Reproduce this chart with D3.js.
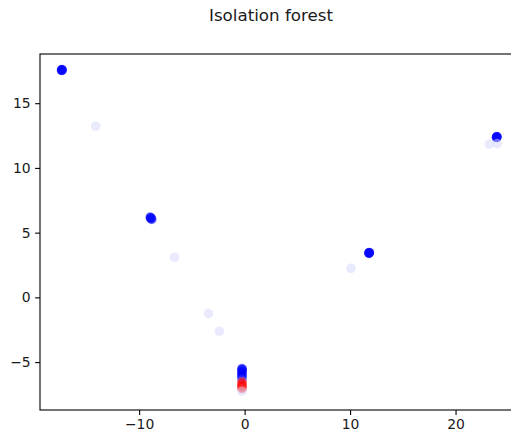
<!DOCTYPE html>
<html>
<head>
<meta charset="utf-8">
<script src="https://cdn.jsdelivr.net/npm/d3@7"></script>
<style>
  html, body { margin: 0; padding: 0; background: #fff; }
  svg { display: block; font-family: "DejaVu Sans", sans-serif; }
</style>
</head>
<body>
<svg id="chart" width="511" height="437"></svg>
<script>
// Sample coordinates and their anomaly scores (0 = inlier/blue, 1 = outlier/red)
const xs = [
  -17.35, -17.30, -17.33, -17.36, -17.31,
  -14.12,
  -8.95, -8.90, -8.85, -8.80, -8.92,
  -6.65,
  -3.43,
  -2.39,
  -0.25, -0.25, -0.22, -0.25, -0.25, -0.25, -0.25, -0.25, -0.25,
  -0.25, -0.25, -0.25, -0.25, -0.25, -0.25, -0.25, -0.25,
  11.80, 11.83, 11.78, 11.82, 11.79,
  10.09,
  23.90, 23.93, 23.88, 23.92, 23.89,
  23.20, 23.95
];
const ys = [
  17.58, 17.55, 17.60, 17.52, 17.57,
  13.22,
  6.20, 6.15, 6.08, 6.02, 6.12,
  3.10,
  -1.24,
  -2.63,
  -5.50, -5.55, -5.60, -5.70, -5.80, -5.90, -6.00, -6.10, -6.20,
  -6.35, -6.50, -6.60, -6.75, -6.85, -6.95, -7.05, -7.25,
  3.42, 3.45, 3.40, 3.47, 3.44,
  2.24,
  12.37, 12.40, 12.35, 12.42, 12.38,
  11.83, 11.88
];
const scores = [
  0, 0, 0, 0, 0,
  0.42,
  0, 0, 0, 0, 0,
  0.42,
  0.42,
  0.42,
  0, 0, 0, 0, 0, 0, 0, 0, 0,
  0.1, 0.8, 1, 1, 1, 1, 0.9, 0.42,
  0, 0, 0, 0, 0,
  0.42,
  0, 0, 0, 0, 0,
  0.42, 0.42
];
const xTicks = [-10, 0, 10, 20];
const yTicks = [-5, 0, 5, 10, 15];
const title = "Isolation forest";

const svg = d3.select("#chart");
const plotLeft = 40, plotRight = 522, plotTop = 54, plotBottom = 410;

const x = d3.scaleLinear().domain([-19.4, 26.3]).range([plotLeft, plotRight]);
const y = d3.scaleLinear().domain([-8.7, 18.8]).range([plotBottom, plotTop]);

// blue-white-red diverging colormap
const bwr = d3.scaleLinear().domain([0, 0.5, 1]).range(["#0000ff", "#ffffff", "#ff0000"]);

svg.append("text")
  .attr("x", 271).attr("y", 21)
  .attr("text-anchor", "middle")
  .attr("font-size", "16.7px")
  .attr("fill", "#1a1a1a")
  .text(title);

const pts = xs.map((v, i) => ({ x: v, y: ys[i], s: scores[i] }));

svg.append("g")
  .selectAll("circle")
  .data(pts)
  .enter().append("circle")
  .attr("cx", d => x(d.x))
  .attr("cy", d => y(d.y))
  .attr("r", 4.8)
  .attr("fill", d => bwr(d.s))
  .attr("fill-opacity", 0.5);

// Axes
const fmt = d => d3.format("d")(d).replace("-", "\u2212");
const xAxis = d3.axisBottom(x).tickValues(xTicks).tickSize(4.9).tickPadding(4.5).tickFormat(fmt);
const yAxis = d3.axisLeft(y).tickValues(yTicks).tickSize(4.9).tickPadding(4.5).tickFormat(fmt);

const gx = svg.append("g").attr("transform", `translate(0,${plotBottom})`).call(xAxis);
const gy = svg.append("g").attr("transform", `translate(${plotLeft},0)`).call(yAxis);
[gx, gy].forEach(g => {
  g.select(".domain").remove();
  g.selectAll("line").attr("stroke", "#000").attr("stroke-width", 1.1);
  g.selectAll("text").attr("font-size", "13.9px").attr("fill", "#1a1a1a")
    .attr("font-family", "DejaVu Sans, sans-serif");
});

// Frame
svg.append("rect")
  .attr("x", plotLeft).attr("y", plotTop)
  .attr("width", plotRight - plotLeft).attr("height", plotBottom - plotTop)
  .attr("fill", "none").attr("stroke", "#000").attr("stroke-width", 1.1);
</script>
</body>
</html>
